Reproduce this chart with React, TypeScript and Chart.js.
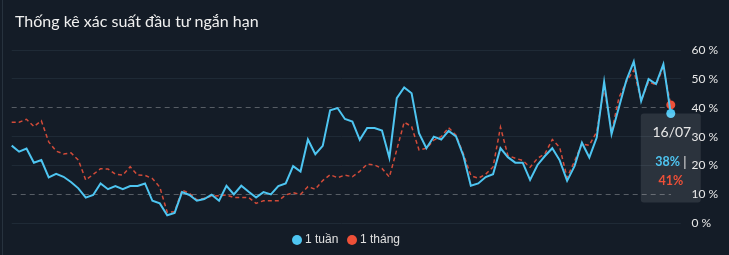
import React, { useEffect, useRef } from "react";
import { Chart, registerables } from "chart.js";

Chart.register(...registerables);

const TITLE = "Thống kê xác suất đầu tư ngắn hạn";
const SERIES_NAMES = ["1 tuần", "1 tháng"];

const labels = [
  "13/03", "14/03", "15/03", "18/03", "19/03", "20/03", "21/03", "22/03", "25/03", "26/03", "27/03", "28/03", "29/03",
  "01/04", "02/04", "03/04", "04/04", "05/04", "08/04", "09/04", "10/04", "11/04", "12/04", "15/04", "16/04", "17/04",
  "18/04", "19/04", "22/04", "23/04", "24/04", "25/04", "26/04", "29/04", "30/04",
  "01/05", "02/05", "03/05", "06/05", "07/05", "08/05", "09/05", "10/05", "13/05", "14/05", "15/05", "16/05", "17/05",
  "20/05", "21/05", "22/05", "23/05", "24/05", "27/05", "28/05", "29/05", "30/05", "31/05",
  "03/06", "04/06", "05/06", "06/06", "07/06", "10/06", "11/06", "12/06", "13/06", "14/06", "17/06", "18/06", "19/06",
  "20/06", "21/06", "24/06", "25/06", "26/06", "27/06", "28/06",
  "01/07", "02/07", "03/07", "04/07", "05/07", "08/07", "09/07", "10/07", "11/07", "12/07", "15/07", "16/07",
];

const weekSeries = [
  26.9, 24.8, 25.9, 21.0, 21.9, 15.9, 17.1, 16.1, 14.3, 12.1,
  8.9, 9.8, 13.8, 11.8, 12.9, 11.8, 12.9, 12.9, 13.8, 7.8,
  6.9, 2.8, 3.6, 10.8, 9.8, 7.8, 8.4, 9.9, 7.8, 13.0,
  10.0, 13.0, 10.9, 8.9, 10.8, 10.0, 12.9, 13.8, 19.8, 17.9,
  29.0, 23.9, 26.8, 39.1, 39.9, 36.1, 35.2, 28.9, 33.0, 33.0,
  32.1, 22.7, 43.3, 47.0, 45.0, 31.2, 26.0, 30.0, 29.0, 32.0,
  30.1, 23.3, 13.0, 13.8, 16.0, 17.0, 26.0, 22.9, 21.0, 21.0,
  15.0, 20.2, 23.3, 26.0, 21.8, 14.7, 19.8, 27.9, 22.8, 29.7,
  49.0, 30.9, 40.2, 49.5, 56.0, 42.3, 49.9, 48.2, 55.1, 38.0,
];

const monthSeries = [
  35.0, 35.0, 36.0, 33.5, 35.5, 28.2, 25.0, 24.0, 24.4, 21.9,
  15.0, 16.9, 18.9, 18.8, 17.0, 16.7, 19.6, 16.7, 16.6, 15.5,
  12.5, 3.8, 4.0, 11.5, 10.4, 8.1, 8.7, 9.4, 9.5, 9.8,
  8.9, 8.9, 8.9, 6.9, 7.8, 7.8, 7.8, 9.8, 10.6, 10.0,
  12.7, 11.8, 14.8, 16.8, 15.8, 16.7, 16.1, 18.0, 20.5, 20.2,
  19.0, 16.0, 25.5, 35.0, 33.5, 25.4, 26.0, 28.8, 30.0, 33.1,
  30.5, 24.0, 16.5, 15.6, 17.0, 19.5, 33.3, 23.5, 22.5, 21.8,
  19.4, 22.5, 24.0, 29.0, 26.3, 15.8, 21.5, 27.5, 27.0, 31.7,
  47.0, 31.5, 43.5, 49.0, 53.0, 42.5, 49.0, 48.0, 54.0, 41.0,
];

const Y_MIN = 0;
const Y_MAX = 60;
const Y_STEP = 10;
const DASHED_LEVELS = [10, 40];

const ACTIVE_INDEX = labels.length - 1;

const BG = "#141c27";
const GRID = "#1f2a36";
const DASH_GRID = "#575d65";
const BLUE = "#4ec5f1";
const RED_LINE = "#d24b39";
const RED = "#ee5038";
const TEXT = "#e8e8e8";

const fmtPct = (v: number) => `${Math.round(v)}%`;

const tipPlugin = {
  id: "fixedTip",
  afterDraw(chart: any) {
    const el = chart.getDatasetMeta(0).data[ACTIVE_INDEX];
    if (!el) return;
    const ctx = chart.ctx as CanvasRenderingContext2D;
    const cx = el.x;
    const top = el.y;
    const w = 60;
    const h = 89;
    ctx.save();
    ctx.fillStyle = "rgba(255,255,255,0.1)";
    ctx.beginPath();
    (ctx as any).roundRect(cx - w / 2, top, w, h, 3);
    ctx.fill();

    ctx.textBaseline = "alphabetic";
    ctx.textAlign = "center";
    ctx.fillStyle = TEXT;
    ctx.font = "14px Lato";
    ctx.fillText(labels[ACTIVE_INDEX], cx + 1, top + 23);

    const t1 = fmtPct(weekSeries[ACTIVE_INDEX]);
    const t2 = " |";
    ctx.font = "bold 12.5px Lato";
    const w1 = ctx.measureText(t1).width;
    ctx.font = "13px Lato";
    const w2 = ctx.measureText(t2).width;
    const x0 = cx - (w1 + w2) / 2;
    ctx.textAlign = "left";
    ctx.font = "bold 12.5px Lato";
    ctx.fillStyle = BLUE;
    ctx.fillText(t1, x0, top + 52.5);
    ctx.font = "13px Lato";
    ctx.fillStyle = TEXT;
    ctx.fillText(t2, x0 + w1, top + 53.5);

    ctx.textAlign = "center";
    ctx.font = "bold 12.5px Lato";
    ctx.fillStyle = RED;
    ctx.fillText(fmtPct(monthSeries[ACTIVE_INDEX]), cx, top + 71.5);
    ctx.restore();
  },
};

export default function App() {
  const canvasRef = useRef<HTMLCanvasElement | null>(null);

  useEffect(() => {
    if (!canvasRef.current) return;
    const isDashed = (ctx: any) => DASHED_LEVELS.includes(ctx?.tick?.value);
    const chart = new Chart(canvasRef.current, {
      type: "line",
      data: {
        labels,
        datasets: [
          {
            label: SERIES_NAMES[0],
            data: weekSeries,
            borderColor: BLUE,
            backgroundColor: BLUE,
            borderWidth: 2,
            tension: 0,
            clip: false as any,
            pointRadius: (c: any) => (c.dataIndex === ACTIVE_INDEX ? 4.5 : 0),
            pointHoverRadius: (c: any) => (c.dataIndex === ACTIVE_INDEX ? 4.5 : 0),
            pointBorderWidth: 0,
            pointBackgroundColor: BLUE,
          },
          {
            label: SERIES_NAMES[1],
            data: monthSeries,
            borderColor: RED_LINE,
            backgroundColor: RED,
            borderWidth: 1.5,
            borderDash: [4, 3],
            tension: 0,
            clip: false as any,
            pointRadius: (c: any) => (c.dataIndex === ACTIVE_INDEX ? 4.5 : 0),
            pointHoverRadius: (c: any) => (c.dataIndex === ACTIVE_INDEX ? 4.5 : 0),
            pointBorderWidth: 0,
            pointBackgroundColor: RED,
          },
        ],
      },
      options: {
        animation: false,
        responsive: false,
        events: [],
        layout: { padding: { left: 11.7, top: 50, bottom: 31.7, right: 0 } },
        plugins: {
          legend: { display: false },
          tooltip: { enabled: false },
          title: { display: false },
        },
        scales: {
          x: { display: false, offset: false },
          y: {
            position: "right",
            min: Y_MIN,
            max: Y_MAX,
            ticks: {
              stepSize: Y_STEP,
              padding: 10.8,
              color: TEXT,
              font: { family: "Lato", size: 12 },
              callback: (v: any) => `${v} %`,
            },
            grid: {
              color: (c: any) => (isDashed(c) ? DASH_GRID : GRID),
              tickColor: (c: any) => (isDashed(c) ? "rgba(0,0,0,0)" : GRID),
              tickLength: 10,
              lineWidth: 1,
            },
            border: {
              display: false,
              dash: (c: any) => (isDashed(c) ? [5, 4] : []),
            } as any,
          },
        },
      },
      plugins: [tipPlugin],
    });
    return () => chart.destroy();
  }, []);

  return (
    <div
      style={{
        position: "fixed",
        left: 0,
        top: 0,
        width: 729,
        height: 255,
        background: BG,
        overflow: "hidden",
      }}
    >
      <div style={{ position: "absolute", left: 2, top: 0, width: 1, height: 255, background: "#27323e" }} />
      <canvas
        ref={canvasRef}
        width={729}
        height={255}
        style={{ position: "absolute", left: 0, top: 0, width: 729, height: 255 }}
      />
      <div
        style={{
          position: "absolute",
          left: 15,
          top: 11,
          fontFamily: "Lato",
          fontSize: 16,
          lineHeight: "20px",
          color: "#f0f0f0",
          whiteSpace: "nowrap",
        }}
      >
        {TITLE}
      </div>
      {[
        { name: SERIES_NAMES[0], color: BLUE, dot: 292, text: 305 },
        { name: SERIES_NAMES[1], color: RED, dot: 347, text: 360 },
      ].map((it) => (
        <React.Fragment key={it.name}>
          <div
            style={{
              position: "absolute",
              left: it.dot,
              top: 235,
              width: 10,
              height: 10,
              borderRadius: "50%",
              background: it.color,
            }}
          />
          <div
            style={{
              position: "absolute",
              left: it.text,
              top: 232,
              fontFamily: "'Liberation Sans', Arial, sans-serif",
              fontSize: 12,
              lineHeight: "14px",
              color: "#e0e0e0",
              whiteSpace: "nowrap",
            }}
          >
            {it.name}
          </div>
        </React.Fragment>
      ))}
    </div>
  );
}
